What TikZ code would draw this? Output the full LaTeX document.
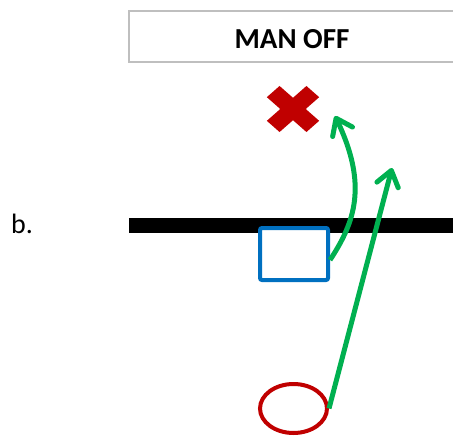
\documentclass[tikz,border=0pt]{standalone}
\usepackage{fontspec}
\setmainfont{Carlito}
\usetikzlibrary{arrows.meta,calc,shapes.geometric}
\definecolor{offgreen}{HTML}{00B050}
\definecolor{offred}{HTML}{C00000}
\definecolor{offblue}{HTML}{0070C0}
\definecolor{boxgray}{HTML}{BFBFBF}
\tikzset{
  titlebox/.style={draw=boxgray, line width=1.5pt, minimum width=326pt, minimum height=51pt,
    inner sep=0pt, text height=25pt, text depth=0pt, font=\fontsize{29}{32}\selectfont\bfseries},
  playerbox/.style={draw=offblue, fill=white, line width=4pt, rounded corners=2pt,
    minimum width=68pt, minimum height=52pt, inner sep=0pt},
  playerell/.style={ellipse, draw=offred, line width=4pt, minimum width=67pt,
    minimum height=49pt, inner sep=0pt},
  route/.style={draw=offgreen, line width=5pt,
    -{Straight Barb[length=15pt,width=22pt,line width=5pt,round]}},
  lbl/.style={font=\fontsize{28}{32}\selectfont, inner sep=0pt, anchor=base west}
}
\begin{document}
\begin{tikzpicture}[x=1pt,y=-1pt]
\useasboundingbox (0,0) rectangle (453,436);
\node[titlebox] (title) at (292,36.5) {MAN OFF};
\node[lbl] (b) at (11,233) {b.};
\coordinate (lineL) at (129,225.5);
\coordinate (lineR) at (460,225.5);
\draw[line width=15pt] (lineL) -- (lineR);
\node[playerbox] (sq) at (294,254) {};
\node[playerell] (ell) at (293.5,408.5) {};
% red X
\coordinate (xm) at (293,109);
\begin{scope}[shift={(xm)}, yscale=0.88, rotate=45]
\fill[offred] (-9,-28) -- (9,-28) -- (9,-9) -- (28,-9) -- (28,9) -- (9,9)
  -- (9,28) -- (-9,28) -- (-9,9) -- (-28,9) -- (-28,-9) -- (-9,-9) -- cycle;
\end{scope}
\coordinate (t1) at (335,116);
\coordinate (t2) at (392,168);
\draw[route] ($(sq.east)+(0,6)$) .. controls (355,222) and (368,185) .. (t1);
\draw[route] (ell.east) -- (t2);
\end{tikzpicture}
\end{document}
